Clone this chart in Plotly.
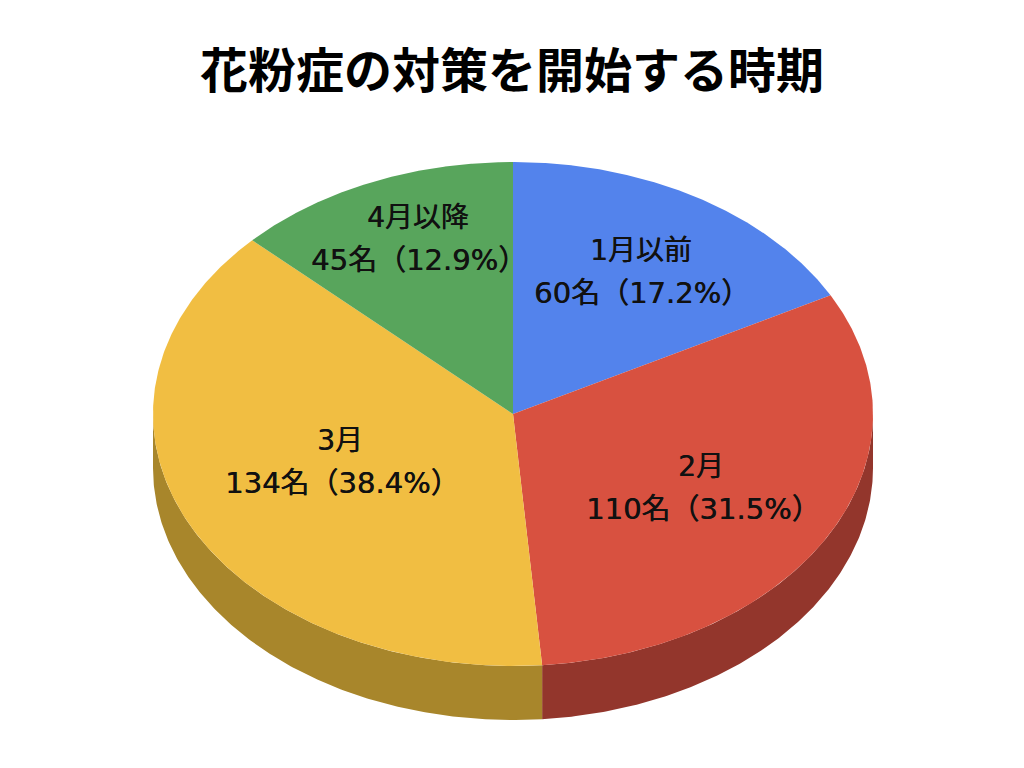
import numpy as np
import plotly.graph_objects as go

# datos
categorias = ['1月以前', '2月', '3月', '4月以降']
personas = [60, 110, 134, 45]
porcentajes = [17.2, 31.5, 38.4, 12.9]
titulo = '花粉症の対策を開始する時期'

colores = ['#5383EC', '#D85140', '#F1BE42', '#58A55C']
colores_lado = ['#3B5DA8', '#93362C', '#A8862B', '#3E7541']

# geometria de la elipse, en pixeles de la imagen
cx, cy = 513, 414
rx, ry = 360, 252
grosor = 54

# centro de cada etiqueta (x, y de la primera y segunda linea)
etiqueta_x = [641, 701, 340, 418]
etiqueta_x2 = [642, 703, 342, 419]
etiqueta_y1 = [250, 466, 440, 217]
etiqueta_y2 = [293, 509, 483, 260]


def borde(angulos, dy=0):
    # angulo en grados, sentido horario desde arriba
    rad = np.radians(angulos)
    return cx + rx * np.sin(rad), cy - ry * np.cos(rad) + dy


fig = go.Figure()

limites = np.cumsum([0] + personas) / sum(personas) * 360

# primero los lados, solo la mitad de abajo se ve
for i in range(len(personas)):
    a0 = max(limites[i], 90)
    a1 = min(limites[i + 1], 270)
    if a1 <= a0:
        continue
    arco = np.linspace(a0, a1, 200)
    x_arr, y_arr = borde(arco)
    x_aba, y_aba = borde(arco[::-1], grosor)
    fig.add_trace(go.Scatter(
        x=np.concatenate([x_arr, x_aba]),
        y=np.concatenate([y_arr, y_aba]),
        mode='lines', fill='toself', fillcolor=colores_lado[i],
        line=dict(width=0), hoverinfo='skip', showlegend=False,
    ))

# despues la cara superior
for i, cat in enumerate(categorias):
    arco = np.linspace(limites[i], limites[i + 1], 300)
    x_arc, y_arc = borde(arco)
    fig.add_trace(go.Scatter(
        x=np.concatenate([[cx], x_arc, [cx]]),
        y=np.concatenate([[cy], y_arc, [cy]]),
        mode='lines', fill='toself', fillcolor=colores[i],
        line=dict(width=0), name=cat, showlegend=False,
    ))

# la sombra da el peso medio que no tienen estas fuentes
fuente = 'DejaVu Sans, Noto Sans CJK JP'
sombra = '0.5px 0 0 #111111'
for i, cat in enumerate(categorias):
    fig.add_annotation(x=etiqueta_x[i], y=etiqueta_y1[i], text=cat, showarrow=False,
                       font=dict(family=fuente, size=28, color='#111111', shadow=sombra))
    fig.add_annotation(x=etiqueta_x2[i], y=etiqueta_y2[i],
                       text=f'{personas[i]}名（{porcentajes[i]}%）', showarrow=False,
                       font=dict(family=fuente, size=29, color='#111111', shadow=sombra))

fig.add_annotation(x=512, y=67, text=f'<b>{titulo}</b>', showarrow=False,
                   font=dict(family='Noto Sans CJK JP', size=48, color='#000000'))

# la pagina deja 8 px de margen en body, por eso el rango empieza en 8
fig.update_layout(
    width=1016, height=760,
    margin=dict(l=0, r=0, t=0, b=0),
    paper_bgcolor='white', plot_bgcolor='white',
    xaxis=dict(range=[8, 1024], visible=False),
    yaxis=dict(range=[768, 8], visible=False),
)

fig.write_html("out.html")
